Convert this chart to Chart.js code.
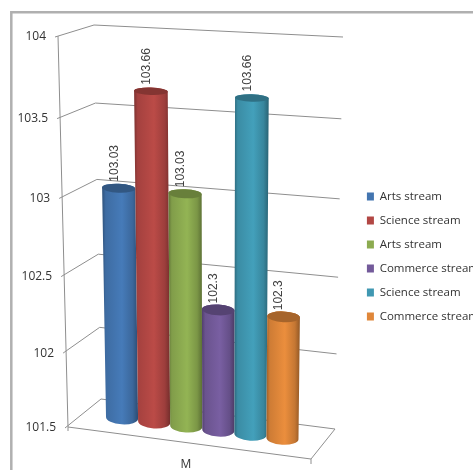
<!DOCTYPE html>
<html>
<head>
<meta charset="utf-8">
<title>Streams</title>
<script src="https://cdn.jsdelivr.net/npm/chart.js@4"></script>
<style>
  html, body { margin: 0; background: #fff; overflow: hidden; height: 100%; }
  canvas { display: block; }
</style>
</head>
<body>
<canvas id="chartCanvas" width="489" height="470"></canvas>
<script>
const categories = ["M"];
const seriesNames = ["Arts stream", "Science stream", "Arts stream", "Commerce stream", "Science stream", "Commerce stream"];
const seriesValues = [103.03, 103.66, 103.03, 102.3, 103.66, 102.3];
const seriesColors = ["#4375b0", "#b24744", "#8cab50", "#735a9a", "#4098b2", "#e0873a"];
const axisMin = 101.5;
const axisMax = 104;
const axisStep = 0.5;

const labelFont = "12px 'Open Sans'";
const valueFont = "12px 'Liberation Sans'";

// wall corners of the 3d box, top then bottom of each vertical edge
const frontEdge = [[58, 36], [68, 427]];
const backEdge = [[94, 25], [101, 399]];
const rightEdge = [[343, 37], [335, 429]];
const floorFront = [311, 459];

// plane the cylinders stand on, inside the box
const plane = { tl: [99.5, 33.5], tr: [303, 45], bl: [106, 416], br: [298.5, 440.5] };

// lines get closer together further down the axis
const depth = 1.055;
function foreshorten(s) {
  return s * depth / ((1 - s) + s * depth);
}

function mix(a, b, t) {
  return [a[0] + (b[0] - a[0]) * t, a[1] + (b[1] - a[1]) * t];
}

function onEdge(edge, s) {
  return mix(edge[0], edge[1], foreshorten(s));
}

function onPlane(u, s) {
  return mix(mix(plane.tl, plane.tr, u), mix(plane.bl, plane.br, u), foreshorten(s));
}

function shade(hex, f) {
  const n = parseInt(hex.slice(1), 16);
  const c = [n >> 16, (n >> 8) & 255, n & 255].map(v => Math.min(255, Math.round(v * f)));
  return `rgb(${c[0]},${c[1]},${c[2]})`;
}

function line(ctx, a, b) {
  ctx.beginPath();
  ctx.moveTo(a[0], a[1]);
  ctx.lineTo(b[0], b[1]);
  ctx.stroke();
}

function drawFrame(ctx) {
  ctx.strokeStyle = "#b0b0b0";
  ctx.lineWidth = 2.5;
  ctx.beginPath();
  ctx.moveTo(11.3, 470);
  ctx.lineTo(11.3, 12.2);
  ctx.lineTo(489, 12.2);
  ctx.stroke();
}

function drawWalls(chart) {
  const ctx = chart.ctx;
  const y = chart.scales.y;
  const area = chart.chartArea;
  ctx.strokeStyle = "#8e8e8e";
  ctx.lineWidth = 1;

  line(ctx, frontEdge[0], frontEdge[1]);
  y.ticks.forEach(t => {
    const s = (y.getPixelForValue(t.value) - area.top) / (area.bottom - area.top);
    const f = onEdge(frontEdge, s);
    const b = onEdge(backEdge, s);
    const r = onEdge(rightEdge, s);
    line(ctx, [f[0] - 3, f[1] + 1], b);
    line(ctx, b, r);

    ctx.fillStyle = "#333";
    ctx.font = labelFont;
    ctx.textAlign = "right";
    ctx.textBaseline = "middle";
    ctx.fillText(String(t.value), f[0] - 12, f[1] + 1);
  });

  // floor
  const fl = frontEdge[1];
  line(ctx, fl, floorFront);
  line(ctx, rightEdge[1], floorFront);
  line(ctx, fl, [fl[0], fl[1] + 4]);
  line(ctx, floorFront, [floorFront[0], floorFront[1] + 5]);

  ctx.fillStyle = "#333";
  ctx.font = labelFont;
  ctx.textAlign = "center";
  ctx.textBaseline = "middle";
  ctx.fillText(categories[0], 186, 465);
}

function drawCylinder(chart, index) {
  const ctx = chart.ctx;
  const area = chart.chartArea;
  const el = chart.getDatasetMeta(index).data[0];
  const color = seriesColors[index];

  const u0 = (el.x - el.width / 2 - area.left) / (area.right - area.left);
  const u1 = (el.x + el.width / 2 - area.left) / (area.right - area.left);
  const sTop = (el.y - area.top) / (area.bottom - area.top);
  const sBase = (el.base - area.top) / (area.bottom - area.top);

  const tl = onPlane(u0, sTop), tr = onPlane(u1, sTop);
  const bl = onPlane(u0, sBase), br = onPlane(u1, sBase);

  const topC = mix(tl, tr, 0.5), baseC = mix(bl, br, 0.5);
  const topRx = (tr[0] - tl[0]) / 2, baseRx = (br[0] - bl[0]) / 2;
  // the caps stay closer to level than the plane does
  const topTilt = Math.atan2(tr[1] - tl[1], tr[0] - tl[0]) * 0.5;
  const baseTilt = Math.atan2(br[1] - bl[1], br[0] - bl[0]) * 0.5;
  // caps open up lower down
  const topRy = 3.3 + 3 * foreshorten(sTop);
  const baseRy = 3.3 + 3 * foreshorten(sBase);

  const g = ctx.createLinearGradient(Math.min(tl[0], bl[0]), 0, Math.max(tr[0], br[0]), 0);
  g.addColorStop(0, shade(color, 0.7));
  g.addColorStop(0.1, shade(color, 0.92));
  g.addColorStop(0.55, shade(color, 1.05));
  g.addColorStop(0.85, shade(color, 0.88));
  g.addColorStop(1, shade(color, 0.65));

  ctx.fillStyle = g;
  ctx.beginPath();
  ctx.moveTo(tl[0], tl[1]);
  ctx.lineTo(bl[0], bl[1]);
  ctx.ellipse(baseC[0], baseC[1], baseRx, baseRy, baseTilt, Math.PI, 0, true);
  ctx.lineTo(tr[0], tr[1]);
  ctx.ellipse(topC[0], topC[1], topRx, topRy, topTilt, 0, Math.PI, true);
  ctx.closePath();
  ctx.fill();

  ctx.fillStyle = shade(color, 0.74);
  ctx.beginPath();
  ctx.ellipse(topC[0], topC[1], topRx, topRy, topTilt, 0, Math.PI * 2);
  ctx.fill();

  // value printed sideways over the cap
  ctx.save();
  ctx.translate(topC[0] - 4.5, topC[1] - 6.5);
  ctx.rotate(-Math.PI / 2);
  ctx.fillStyle = "#404040";
  ctx.font = valueFont;
  ctx.textAlign = "left";
  ctx.textBaseline = "middle";
  ctx.fillText(String(seriesValues[index]), 0, 0);
  ctx.restore();
}

const boxPlugin = {
  id: "box3d",
  beforeDraw(chart) {
    drawFrame(chart.ctx);
  },
  afterLayout(chart) {
    // legend sits lower than the middle of the plot
    chart.legend.top += 25.5;
    chart.legend.bottom += 25.5;
  },
  beforeDatasetsDraw(chart) {
    chart.ctx.save();
    drawWalls(chart);
    chart.ctx.restore();
  },
  // cylinders are drawn together below so the later ones overlap the earlier ones
  beforeDatasetDraw() {
    return false;
  },
  afterDatasetsDraw(chart) {
    chart.ctx.save();
    seriesValues.forEach((v, i) => drawCylinder(chart, i));
    chart.ctx.restore();
  }
};

new Chart(document.getElementById("chartCanvas").getContext("2d"), {
  type: "bar",
  data: {
    labels: categories,
    datasets: seriesNames.map((name, i) => ({
      label: name,
      data: [seriesValues[i]],
      base: axisMin,
      backgroundColor: seriesColors[i],
      borderWidth: 0,
      barPercentage: 1,
      categoryPercentage: 1
    }))
  },
  options: {
    responsive: false,
    animation: false,
    layout: { padding: { top: 36, bottom: 44, left: 60 } },
    scales: {
      x: { display: false },
      y: { display: false, min: axisMin, max: axisMax, ticks: { stepSize: axisStep } }
    },
    plugins: {
      tooltip: { enabled: false },
      legend: {
        position: "right",
        labels: {
          boxWidth: 7,
          boxHeight: 8,
          padding: 12.5,
          color: "#333",
          font: { family: "'Open Sans'", size: 11.5 }
        }
      }
    }
  },
  plugins: [boxPlugin]
});
</script>
</body>
</html>
